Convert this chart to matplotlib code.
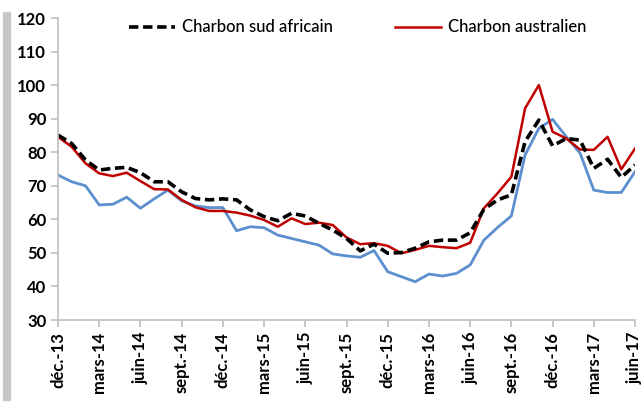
import matplotlib
matplotlib.use("Agg")
import matplotlib.pyplot as plt
from matplotlib.patches import Rectangle

# monthly prices, déc.-13 -> juin-17
mois = ["déc.-13", "janv.-14", "févr.-14", "mars-14", "avr.-14", "mai-14", "juin-14",
        "juil.-14", "août-14", "sept.-14", "oct.-14", "nov.-14", "déc.-14",
        "janv.-15", "févr.-15", "mars-15", "avr.-15", "mai-15", "juin-15",
        "juil.-15", "août-15", "sept.-15", "oct.-15", "nov.-15", "déc.-15",
        "janv.-16", "févr.-16", "mars-16", "avr.-16", "mai-16", "juin-16",
        "juil.-16", "août-16", "sept.-16", "oct.-16", "nov.-16", "déc.-16",
        "janv.-17", "févr.-17", "mars-17", "avr.-17", "mai-17", "juin-17"]

sud_africain = [85.1, 82.6, 77.7, 74.7, 75.2, 75.5, 73.9, 71.2, 71.2, 68.2, 66.2,
                65.8, 66.1, 65.8, 62.8, 60.8, 59.6, 61.8, 61.0, 58.8, 56.8, 54.3,
                50.6, 52.6, 49.9, 50.1, 51.4, 53.3, 53.8, 53.8, 56.0, 63.0, 65.8,
                67.3, 83.2, 89.6, 81.9, 84.1, 83.6, 75.2, 77.9, 72.5, 76.2]

australien = [84.6, 81.6, 76.7, 73.7, 72.9, 73.9, 71.4, 69.0, 68.9, 65.8, 63.6,
              62.5, 62.5, 62.0, 61.1, 59.8, 57.8, 60.3, 58.6, 59.0, 58.3, 54.6,
              52.6, 52.9, 52.1, 49.9, 50.9, 52.1, 51.7, 51.4, 53.0, 63.3, 67.8,
              72.7, 93.1, 100.0, 86.1, 84.1, 80.8, 80.7, 84.6, 74.9, 81.1]

troisieme = [73.2, 71.2, 70.0, 64.3, 64.5, 66.6, 63.3, 66.1, 68.7, 65.5, 64.0,
             63.5, 63.5, 56.6, 57.8, 57.5, 55.3, 54.3, 53.3, 52.3, 49.7, 49.1,
             48.7, 50.7, 44.4, 42.9, 41.4, 43.7, 43.1, 43.9, 46.4, 53.8, 57.6,
             61.0, 79.2, 87.1, 89.8, 84.6, 79.7, 68.7, 68.0, 68.0, 74.2]

fig = plt.figure(figsize=(6.43, 4.12), dpi=100)
ax = fig.add_axes([0.0902, 0.2233, 0.8974, 0.733])

# grey frame shadow on the left
fig.patches.append(Rectangle((0.004, 0.03), 0.012, 0.94, transform=fig.transFigure,
                             color="#c8c8c8", zorder=0))

x = list(range(len(mois)))
ax.plot(x, troisieme, color="#5b8fcf", lw=2.0, label="_nolegend_")
ax.plot(x, australien, color="#c00000", lw=1.8, label="Charbon australien")
ax.plot(x, sud_africain, color="black", lw=2.6, dashes=(2.6, 1.3), label="Charbon sud africain")

ax.set_xlim(0, len(mois) - 1)
ax.set_ylim(30, 120)
ax.set_yticks(range(30, 121, 10))
ax.set_xticks(x[::3])
ax.set_xticklabels(mois[::3], rotation=90)

for s in ["top", "right"]:
    ax.spines[s].set_visible(False)
for s in ["left", "bottom"]:
    ax.spines[s].set_color("#bfbfbf")
    ax.spines[s].set_linewidth(1.2)
ax.tick_params(axis="both", color="#bfbfbf", length=5, width=1.2, direction="out")
for lab in ax.get_xticklabels() + ax.get_yticklabels():
    lab.set_fontfamily("Lato")
    lab.set_fontweight("bold")
    lab.set_fontsize(12)

h, l = ax.get_legend_handles_labels()
leg = ax.legend(h[::-1], l[::-1], ncol=2, frameon=False, loc="upper center",
                bbox_to_anchor=(0.519, 1.045), handlelength=2.8, handletextpad=0.4,
                columnspacing=3.7,
                prop={"family": "Lato", "size": 12, "weight": "medium"})

fig.savefig("out.png", dpi=100)
